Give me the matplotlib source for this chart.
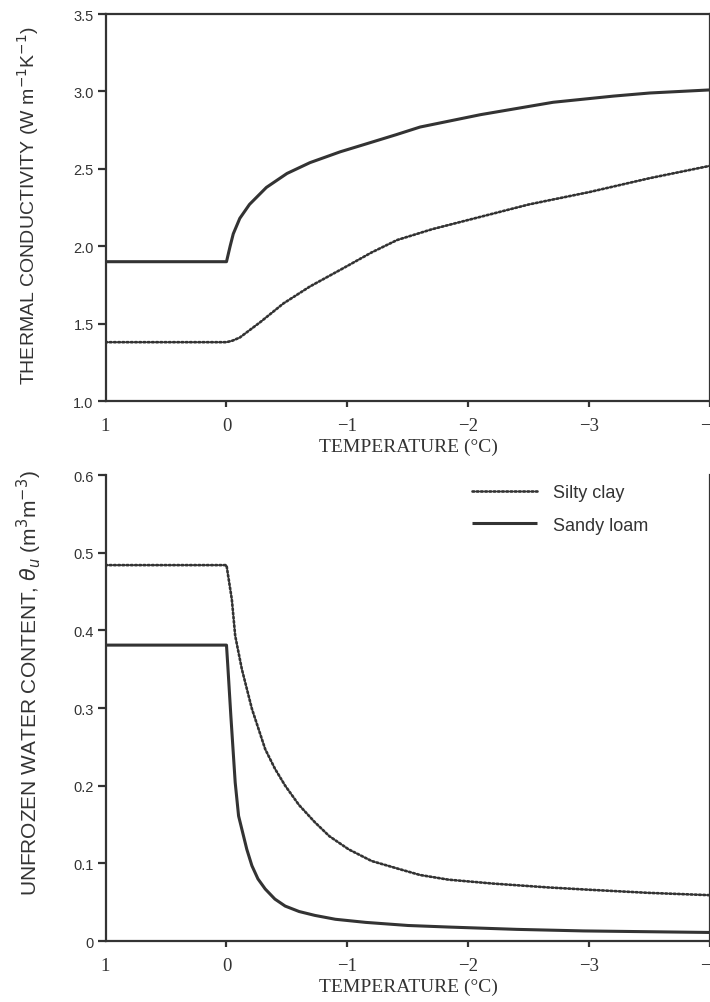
import matplotlib
matplotlib.use('Agg')
import matplotlib.pyplot as plt

# thermal conductivity (W m-1 K-1) against temperature (deg C)
temp_k_sandy = [1, 0, -0.03, -0.056, -0.11, -0.19, -0.33, -0.5, -0.69, -0.94, -1.15, -1.4, -1.6,
                -1.85, -2.1, -2.4, -2.7, -2.95, -3.2, -3.5, -4.0]
k_sandy = [1.90, 1.90, 2.00, 2.08, 2.18, 2.27, 2.38, 2.47, 2.54, 2.61, 2.66, 2.72, 2.77,
           2.81, 2.85, 2.89, 2.93, 2.95, 2.97, 2.99, 3.01]
temp_k_silty = [1, 0, -0.05, -0.11, -0.28, -0.47, -0.69, -0.97, -1.2, -1.41, -1.7, -2.0,
                -2.5, -3.0, -3.5, -4.0]
k_silty = [1.38, 1.38, 1.39, 1.41, 1.51, 1.63, 1.74, 1.86, 1.96, 2.04, 2.11, 2.17,
           2.27, 2.35, 2.44, 2.52]

# unfrozen water content (m3 m-3)
temp_w_sandy = [1, 0, -0.011, -0.036, -0.072, -0.10, -0.168, -0.21, -0.26, -0.32, -0.4,
                -0.485, -0.6, -0.73, -0.9, -1.15, -1.5, -1.835, -2.4, -2.95, -4.0]
w_sandy = [0.381, 0.381, 0.354, 0.29, 0.204, 0.161, 0.118, 0.097, 0.08, 0.067, 0.054,
           0.045, 0.038, 0.033, 0.028, 0.024, 0.020, 0.018, 0.015, 0.013, 0.011]
temp_w_silty = [1, 0, -0.044, -0.072, -0.127, -0.21, -0.32, -0.4, -0.485, -0.6, -0.73,
                -0.85, -1.01, -1.2, -1.42, -1.6, -1.835, -2.2, -2.66, -3.0, -3.49, -4.0]
w_silty = [0.484, 0.484, 0.44, 0.393, 0.35, 0.299, 0.247, 0.222, 0.2, 0.175, 0.153,
           0.135, 0.118, 0.103, 0.093, 0.085, 0.079, 0.074, 0.069, 0.066, 0.062, 0.059]

x_ticks = [1, 0, -1, -2, -3, -4]
k_ticks = [1.0, 1.5, 2.0, 2.5, 3.0, 3.5]
k_labels = ['1.0', '1.5', '2.0', '2.5', '3.0', '3.5']
w_ticks = [0, 0.1, 0.2, 0.3, 0.4, 0.5, 0.6]
w_labels = ['0', '0.1', '0.2', '0.3', '0.4', '0.5', '0.6']

ink = '#333333'
serif = ['Liberation Serif', 'DejaVu Serif']
sans = ['Liberation Sans', 'DejaVu Sans']

fig = plt.figure(figsize=(7.1, 10.03), dpi=100)
ax1 = fig.add_axes([0.1486, 0.5992, 0.852, 0.3858])
ax2 = fig.add_axes([0.1486, 0.0608, 0.852, 0.4646])

solid = dict(color=ink, lw=2.2, solid_capstyle='butt', solid_joinstyle='round')
dotted = dict(color=ink, lw=1.9, linestyle=(0, (0.7, 0.9)), dash_capstyle='round')

ax1.plot(temp_k_sandy, k_sandy, **solid)
ax1.plot(temp_k_silty, k_silty, **dotted)
ax2.plot(temp_w_silty, w_silty, label='Silty clay', **dotted)
ax2.plot(temp_w_sandy, w_sandy, label='Sandy loam', **solid)

ax1.set_ylim(1.0, 3.5)
ax1.set_yticks(k_ticks, k_labels)
ax2.set_ylim(0, 0.6)
ax2.set_yticks(w_ticks, w_labels)

for ax in (ax1, ax2):
    ax.set_xlim(1, -4)
    ax.set_xticks(x_ticks, ['1', '0', '\u22121', '\u22122', '\u22123', '\u22124'])
    ax.xaxis.get_major_ticks()[0].tick1line.set_visible(False)
    for s in ax.spines.values():
        s.set_color(ink)
        s.set_linewidth(1.6)
    ax.tick_params(axis='x', direction='out', length=4.5, width=1.6, color=ink,
                   pad=7, labelsize=13.5, labelcolor=ink, labelfontfamily=serif)
    ax.tick_params(axis='y', direction='out', length=5.5, width=1.6, color=ink,
                   pad=3, labelsize=10.5, labelcolor=ink, labelfontfamily=sans)
    ax.set_xlabel('TEMPERATURE (\u00b0C)', fontsize=14, family=serif, color=ink, labelpad=3)

ax2.spines['top'].set_visible(False)

fig.text(0.039, 0.795, 'THERMAL CONDUCTIVITY (W m$^{-1}$K$^{-1}$)', rotation=90,
         ha='center', va='center', fontsize=14, family=sans, color=ink)
fig.text(0.041, 0.319, 'UNFROZEN WATER CONTENT, $\\theta_u$ (m$^3$m$^{-3}$)', rotation=90,
         ha='center', va='center', fontsize=15, family=sans, color=ink)

leg = ax2.legend(loc='upper left', bbox_to_anchor=(0.606, 0.98), frameon=False,
                 borderpad=0, borderaxespad=0, handlelength=3.6, handletextpad=0.9,
                 labelspacing=0.85, prop={'family': sans, 'size': 13})
for t in leg.get_texts():
    t.set_color(ink)

fig.savefig('out.png', dpi=100)
